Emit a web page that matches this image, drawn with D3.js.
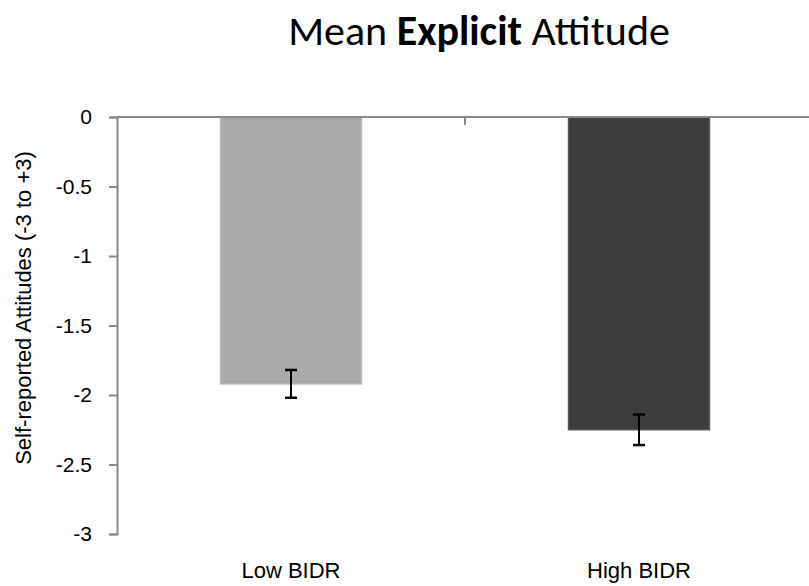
<!DOCTYPE html>
<html>
<head>
<meta charset="utf-8">
<script src="https://cdn.jsdelivr.net/npm/d3@7"></script>
<style>
  html, body { margin: 0; padding: 0; background: #fff; }
  svg { display: block; }
</style>
</head>
<body>
<svg id="chart" width="809" height="586"></svg>
<script>
const categories = ["Low BIDR", "High BIDR"];
const means = [-1.92, -2.25];
const errors = [0.10, 0.11];
const yTicks = [0, -0.5, -1, -1.5, -2, -2.5, -3];
const barColors = ["#aaaaaa", "#3d3d3d"];
const barEdges = ["#b6b6b6", "#575757"];

const svg = d3.select("#chart");
const plotLeft = 117, plotTop = 117, plotBottom = 534, plotRight = 813;

const x = d3.scaleBand().domain(categories).range([plotLeft, plotRight]).paddingInner(0).paddingOuter(0);
const y = d3.scaleLinear().domain([-3, 0]).range([plotBottom, plotTop]);
const barW = x.bandwidth() * 0.405;

// Title
const title = svg.append("text")
  .attr("x", 479).attr("y", 45)
  .attr("text-anchor", "middle")
  .attr("font-family", "Carlito, 'Open Sans', Lato, sans-serif")
  .attr("font-size", 42)
  .attr("fill", "#000");
title.append("tspan").text("Mean ");
title.append("tspan").attr("font-weight", "bold").text("Explicit");
title.append("tspan").text(" Attitude");

// Bars
const g = svg.append("g");
g.selectAll("rect.bar").data(categories).join("rect")
  .attr("class", "bar")
  .attr("x", d => x(d) + x.bandwidth() / 2 - barW / 2)
  .attr("y", y(0))
  .attr("width", barW)
  .attr("height", (d, i) => y(means[i]) - y(0))
  .attr("fill", (d, i) => barColors[i])
  .attr("stroke", (d, i) => barEdges[i])
  .attr("stroke-width", 1.5);

// Error bars
const eb = g.selectAll("g.err").data(categories).join("g").attr("class", "err");
eb.append("line")
  .attr("x1", d => x(d) + x.bandwidth() / 2)
  .attr("x2", d => x(d) + x.bandwidth() / 2)
  .attr("y1", (d, i) => y(means[i] + errors[i]))
  .attr("y2", (d, i) => y(means[i] - errors[i]))
  .attr("stroke", "#000").attr("stroke-width", 2);
[1, -1].forEach(s => {
  eb.append("line")
    .attr("x1", d => x(d) + x.bandwidth() / 2 - 6)
    .attr("x2", d => x(d) + x.bandwidth() / 2 + 6)
    .attr("y1", (d, i) => y(means[i] - s * errors[i]))
    .attr("y2", (d, i) => y(means[i] - s * errors[i]))
    .attr("stroke", "#000").attr("stroke-width", 2.5);
});

// Y axis
const yAxis = svg.append("g")
  .attr("transform", `translate(${plotLeft},0)`)
  .call(d3.axisLeft(y).tickValues(yTicks).tickSize(8).tickSizeOuter(8).tickPadding(17)
    .tickFormat(d => String(d)));
yAxis.select(".domain").attr("stroke", "#8a8a8a").attr("stroke-width", 2);
yAxis.selectAll(".tick line").attr("stroke", "#8a8a8a").attr("stroke-width", 2);
yAxis.selectAll(".tick text")
  .attr("font-family", "'Liberation Sans', Arial, sans-serif")
  .attr("font-size", 21).attr("fill", "#000");

// X axis (top, at y = 0), ticks at category boundaries
const xb = svg.append("g");
xb.append("line")
  .attr("x1", plotLeft).attr("x2", plotRight)
  .attr("y1", y(0)).attr("y2", y(0))
  .attr("stroke", "#8a8a8a").attr("stroke-width", 2);
xb.selectAll("line.sep").data(categories.slice(1)).join("line")
  .attr("class", "sep")
  .attr("x1", d => x(d)).attr("x2", d => x(d))
  .attr("y1", y(0)).attr("y2", y(0) + 8)
  .attr("stroke", "#8a8a8a").attr("stroke-width", 2);

// Category labels
svg.selectAll("text.cat").data(categories).join("text")
  .attr("class", "cat")
  .attr("x", d => x(d) + x.bandwidth() / 2)
  .attr("y", 578)
  .attr("text-anchor", "middle")
  .attr("font-family", "'Liberation Sans', Arial, sans-serif")
  .attr("font-size", 22)
  .attr("fill", "#000")
  .text(d => d);

// Y axis label
svg.append("text")
  .attr("transform", "translate(31,308) rotate(-90)")
  .attr("text-anchor", "middle")
  .attr("font-family", "'Liberation Sans', Arial, sans-serif")
  .attr("font-size", 22)
  .attr("fill", "#000")
  .text("Self-reported Attitudes (-3 to +3)");
</script>
</body>
</html>
